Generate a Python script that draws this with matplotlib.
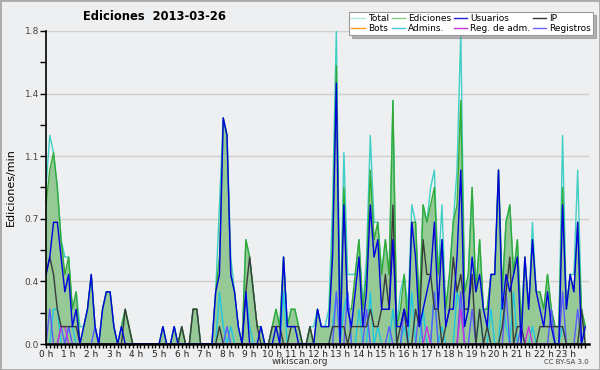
import matplotlib
matplotlib.use("Agg")
import matplotlib.pyplot as plt
from matplotlib.lines import Line2D
from matplotlib.patches import Rectangle
import numpy as np

# edits per minute, one value per 10-minute slot (6 per hour, 0 h .. 23 h)
total = [
    0.9, 1.2, 1.1, 0.9, 0.6, 0.5,  0.5, 0.2, 0.3, 0.1, 0.1, 0.2,
    0.4, 0.1, 0.0, 0.2, 0.3, 0.3,  0.1, 0.0, 0.1, 0.2, 0.1, 0.0,
    0.0, 0.0, 0.0, 0.0, 0.0, 0.0,  0.0, 0.1, 0.0, 0.0, 0.1, 0.0,
    0.1, 0.0, 0.0, 0.2, 0.2, 0.0,  0.0, 0.0, 0.0, 0.3, 0.8, 1.3,
    1.2, 0.5, 0.3, 0.1, 0.0, 0.6,  0.5, 0.3, 0.1, 0.1, 0.0, 0.0,
    0.1, 0.2, 0.1, 0.5, 0.1, 0.2,  0.2, 0.1, 0.0, 0.0, 0.1, 0.1,
    0.2, 0.1, 0.1, 0.2, 0.8, 1.8,  0.1, 1.1, 0.4, 0.4, 0.4, 0.6,
    0.2, 0.5, 1.2, 0.7, 0.7, 0.4,  0.6, 0.4, 1.4, 0.1, 0.3, 0.4,
    0.2, 0.8, 0.7, 0.2, 0.8, 0.7,  0.9, 1.0, 0.4, 0.8, 0.2, 0.4,
    0.7, 1.0, 1.8, 0.3, 0.4, 0.9,  0.3, 0.6, 0.2, 0.2, 0.4, 0.4,
    1.0, 0.3, 0.7, 0.8, 0.4, 0.6,  0.1, 0.5, 0.2, 0.7, 0.3, 0.3,
    0.2, 0.4, 0.2, 0.1, 0.1, 1.2,  0.2, 0.4, 0.4, 1.0, 0.2, 0.1,
]
ediciones = [
    0.8, 1.0, 1.1, 0.9, 0.6, 0.4,  0.5, 0.2, 0.3, 0.0, 0.1, 0.2,
    0.4, 0.1, 0.0, 0.2, 0.3, 0.3,  0.1, 0.0, 0.1, 0.2, 0.1, 0.0,
    0.0, 0.0, 0.0, 0.0, 0.0, 0.0,  0.0, 0.1, 0.0, 0.0, 0.1, 0.0,
    0.1, 0.0, 0.0, 0.2, 0.2, 0.0,  0.0, 0.0, 0.0, 0.3, 0.5, 1.3,
    1.2, 0.4, 0.3, 0.1, 0.0, 0.6,  0.5, 0.3, 0.1, 0.1, 0.0, 0.0,
    0.1, 0.2, 0.1, 0.5, 0.1, 0.2,  0.2, 0.1, 0.0, 0.0, 0.1, 0.0,
    0.2, 0.1, 0.1, 0.1, 0.6, 1.6,  0.1, 0.9, 0.2, 0.2, 0.4, 0.6,
    0.2, 0.4, 1.0, 0.6, 0.7, 0.4,  0.6, 0.4, 1.4, 0.1, 0.2, 0.4,
    0.1, 0.7, 0.7, 0.2, 0.8, 0.7,  0.8, 0.9, 0.4, 0.6, 0.2, 0.4,
    0.7, 0.8, 1.4, 0.3, 0.4, 0.9,  0.3, 0.6, 0.2, 0.2, 0.4, 0.4,
    1.0, 0.3, 0.7, 0.8, 0.4, 0.6,  0.1, 0.5, 0.2, 0.6, 0.3, 0.3,
    0.2, 0.4, 0.2, 0.1, 0.1, 0.9,  0.2, 0.4, 0.3, 0.7, 0.2, 0.1,
]
usuarios = [
    0.4, 0.5, 0.7, 0.7, 0.5, 0.3,  0.4, 0.1, 0.2, 0.0, 0.1, 0.2,
    0.4, 0.1, 0.0, 0.2, 0.3, 0.3,  0.1, 0.0, 0.1, 0.0, 0.0, 0.0,
    0.0, 0.0, 0.0, 0.0, 0.0, 0.0,  0.0, 0.1, 0.0, 0.0, 0.1, 0.0,
    0.0, 0.0, 0.0, 0.0, 0.0, 0.0,  0.0, 0.0, 0.0, 0.3, 0.4, 1.3,
    1.2, 0.4, 0.3, 0.1, 0.0, 0.3,  0.0, 0.0, 0.0, 0.1, 0.0, 0.0,
    0.0, 0.1, 0.0, 0.5, 0.1, 0.1,  0.1, 0.0, 0.0, 0.0, 0.0, 0.0,
    0.2, 0.1, 0.1, 0.1, 0.5, 1.5,  0.0, 0.8, 0.2, 0.1, 0.3, 0.5,
    0.1, 0.3, 0.8, 0.5, 0.6, 0.2,  0.2, 0.2, 0.6, 0.1, 0.1, 0.2,
    0.1, 0.7, 0.5, 0.1, 0.2, 0.3,  0.4, 0.7, 0.2, 0.6, 0.1, 0.2,
    0.2, 0.5, 1.0, 0.1, 0.2, 0.5,  0.3, 0.4, 0.2, 0.1, 0.4, 0.4,
    1.0, 0.2, 0.4, 0.3, 0.4, 0.5,  0.0, 0.5, 0.2, 0.6, 0.3, 0.2,
    0.1, 0.3, 0.1, 0.0, 0.0, 0.8,  0.2, 0.4, 0.3, 0.7, 0.0, 0.1,
]
ip = [
    0.4, 0.5, 0.4, 0.2, 0.1, 0.1,  0.1, 0.1, 0.1, 0.0, 0.0, 0.0,
    0.0, 0.0, 0.0, 0.0, 0.0, 0.0,  0.0, 0.0, 0.0, 0.2, 0.1, 0.0,
    0.0, 0.0, 0.0, 0.0, 0.0, 0.0,  0.0, 0.0, 0.0, 0.0, 0.0, 0.0,
    0.1, 0.0, 0.0, 0.2, 0.2, 0.0,  0.0, 0.0, 0.0, 0.0, 0.1, 0.0,
    0.0, 0.0, 0.0, 0.0, 0.0, 0.3,  0.5, 0.3, 0.1, 0.0, 0.0, 0.0,
    0.1, 0.1, 0.1, 0.0, 0.0, 0.1,  0.1, 0.1, 0.0, 0.0, 0.1, 0.0,
    0.0, 0.0, 0.0, 0.0, 0.1, 0.1,  0.1, 0.1, 0.0, 0.1, 0.1, 0.1,
    0.1, 0.1, 0.2, 0.1, 0.1, 0.2,  0.4, 0.2, 0.8, 0.0, 0.1, 0.2,
    0.0, 0.0, 0.2, 0.1, 0.6, 0.4,  0.4, 0.2, 0.2, 0.0, 0.1, 0.2,
    0.5, 0.3, 0.4, 0.2, 0.2, 0.4,  0.0, 0.2, 0.0, 0.1, 0.0, 0.0,
    0.0, 0.1, 0.3, 0.5, 0.0, 0.1,  0.1, 0.0, 0.0, 0.0, 0.0, 0.1,
    0.1, 0.1, 0.1, 0.1, 0.1, 0.1,  0.0, 0.0, 0.0, 0.0, 0.2, 0.0,
]
admins = [
    0.0, 0.0, 0.2, 0.2, 0.0, 0.0,  0.1, 0.1, 0.0, 0.0, 0.0, 0.0,
    0.0, 0.0, 0.0, 0.0, 0.0, 0.0,  0.0, 0.0, 0.0, 0.0, 0.0, 0.0,
    0.0, 0.0, 0.0, 0.0, 0.0, 0.0,  0.0, 0.0, 0.0, 0.0, 0.0, 0.0,
    0.0, 0.0, 0.0, 0.0, 0.0, 0.0,  0.0, 0.0, 0.0, 0.0, 0.3, 0.1,
    0.0, 0.1, 0.0, 0.0, 0.0, 0.3,  0.1, 0.0, 0.0, 0.0, 0.0, 0.0,
    0.0, 0.0, 0.0, 0.3, 0.0, 0.0,  0.0, 0.0, 0.0, 0.0, 0.0, 0.0,
    0.0, 0.0, 0.0, 0.0, 0.1, 0.3,  0.0, 0.2, 0.3, 0.0, 0.0, 0.2,
    0.0, 0.0, 0.3, 0.0, 0.1, 0.0,  0.0, 0.0, 0.2, 0.0, 0.0, 0.1,
    0.0, 0.3, 0.0, 0.0, 0.2, 0.0,  0.0, 0.3, 0.0, 0.1, 0.0, 0.0,
    0.0, 0.3, 0.2, 0.0, 0.0, 0.0,  0.0, 0.2, 0.0, 0.0, 0.2, 0.0,
    0.0, 0.3, 0.1, 0.0, 0.3, 0.0,  0.0, 0.0, 0.0, 0.1, 0.0, 0.0,
    0.0, 0.0, 0.0, 0.0, 0.0, 0.1,  0.0, 0.0, 0.0, 0.0, 0.0, 0.0,
]
registros = [
    0.0, 0.2, 0.0, 0.0, 0.1, 0.0,  0.1, 0.0, 0.0, 0.0, 0.0, 0.0,
    0.0, 0.1, 0.0, 0.0, 0.0, 0.0,  0.0, 0.0, 0.0, 0.0, 0.0, 0.0,
    0.0, 0.0, 0.0, 0.0, 0.0, 0.0,  0.0, 0.0, 0.0, 0.0, 0.0, 0.0,
    0.0, 0.0, 0.0, 0.0, 0.0, 0.0,  0.0, 0.0, 0.0, 0.0, 0.0, 0.0,
    0.1, 0.0, 0.0, 0.0, 0.0, 0.0,  0.0, 0.0, 0.0, 0.0, 0.0, 0.0,
    0.0, 0.0, 0.0, 0.0, 0.0, 0.0,  0.0, 0.0, 0.0, 0.0, 0.0, 0.0,
    0.0, 0.0, 0.0, 0.0, 0.0, 0.3,  0.0, 0.0, 0.3, 0.0, 0.0, 0.0,
    0.0, 0.2, 0.0, 0.0, 0.0, 0.0,  0.0, 0.1, 0.0, 0.0, 0.0, 0.2,
    0.0, 0.0, 0.0, 0.2, 0.0, 0.0,  0.0, 0.3, 0.0, 0.0, 0.0, 0.0,
    0.0, 0.0, 0.3, 0.0, 0.0, 0.2,  0.0, 0.0, 0.0, 0.0, 0.0, 0.0,
    0.0, 0.0, 0.3, 0.0, 0.0, 0.0,  0.1, 0.0, 0.0, 0.0, 0.0, 0.0,
    0.0, 0.0, 0.2, 0.0, 0.0, 0.3,  0.0, 0.0, 0.0, 0.2, 0.0, 0.0,
]
reg_adm = [
    0.0, 0.0, 0.0, 0.0, 0.1, 0.1,  0.0, 0.0, 0.0, 0.0, 0.0, 0.0,
    0.0, 0.0, 0.0, 0.0, 0.0, 0.0,  0.0, 0.0, 0.0, 0.0, 0.0, 0.0,
    0.0, 0.0, 0.0, 0.0, 0.0, 0.0,  0.0, 0.0, 0.0, 0.0, 0.0, 0.0,
    0.0, 0.0, 0.0, 0.0, 0.0, 0.0,  0.0, 0.0, 0.0, 0.0, 0.0, 0.0,
    0.0, 0.0, 0.0, 0.0, 0.0, 0.0,  0.0, 0.0, 0.0, 0.0, 0.0, 0.0,
    0.0, 0.0, 0.0, 0.0, 0.0, 0.0,  0.0, 0.0, 0.0, 0.0, 0.0, 0.0,
    0.0, 0.0, 0.0, 0.0, 0.0, 0.0,  0.0, 0.0, 0.0, 0.0, 0.0, 0.0,
    0.0, 0.0, 0.0, 0.0, 0.0, 0.0,  0.0, 0.0, 0.0, 0.0, 0.0, 0.0,
    0.0, 0.0, 0.0, 0.0, 0.0, 0.1,  0.0, 0.0, 0.0, 0.0, 0.0, 0.0,
    0.0, 0.0, 0.2, 0.0, 0.0, 0.0,  0.0, 0.0, 0.0, 0.0, 0.0, 0.0,
    0.0, 0.0, 0.0, 0.0, 0.0, 0.0,  0.0, 0.0, 0.1, 0.0, 0.0, 0.0,
    0.0, 0.0, 0.0, 0.0, 0.0, 0.0,  0.0, 0.0, 0.0, 0.0, 0.0, 0.0,
]
bots = [0.0] * 144

hour_labels = [f"{h} h" for h in range(24)]
y_ticks = [0.0, 0.36, 0.72, 1.08, 1.44, 1.8]

bg = '#eeeff1'
fig = plt.figure(figsize=(6, 3.7), dpi=100, facecolor=bg)
ax = fig.add_axes([46 / 600, 1 - 344 / 370, 543 / 600, 313 / 370])
ax.set_facecolor(bg)

x = np.arange(len(total)) / 6.0

for yv in y_ticks:
    ax.axhline(yv, color='#cfcfcf', lw=1.0, zorder=0)

ax.fill_between(x, ediciones, 0, color='#96c996', lw=0, zorder=1)
ax.plot(x, total, color='#3fcfc4', lw=1.0, zorder=2)
ax.plot(x, ediciones, color='#33aa33', lw=1.0, zorder=2)
ax.plot(x, bots, color='#ff9922', lw=1.0, zorder=2)
ax.plot(x, admins, color='#1ec8e0', lw=1.0, zorder=3)
ax.plot(x, registros, color='#5a5aff', lw=1.0, zorder=3)
ax.plot(x, reg_adm, color='#cc33dd', lw=1.0, zorder=3)
ax.plot(x, ip, color='#3a3a3a', lw=1.0, zorder=3)
ax.plot(x, usuarios, color='#0000e0', lw=1.0, zorder=4)

ax.set_xlim(0, 24)
ax.set_ylim(0, 1.8)
ax.set_xticks(range(24))
ax.set_xticklabels(hour_labels)
ax.set_xticks(np.arange(0, 24, 1 / 6), minor=True)
ax.set_yticks(y_ticks)
ax.set_yticklabels([f"{v:.1f}" for v in y_ticks])
ax.set_yticks(np.arange(0.18, 1.8, 0.36), minor=True)

for s in ['top', 'right']:
    ax.spines[s].set_visible(False)
ax.spines['left'].set_linewidth(1.2)
ax.spines['bottom'].set_linewidth(1.8)
ax.spines['left'].set_zorder(5)
ax.spines['bottom'].set_zorder(5)
ax.tick_params(axis='x', which='both', direction='out', length=3, width=1,
               labelsize=6.5, pad=1, labelcolor='#222222')
ax.tick_params(axis='y', which='both', direction='out', length=4, width=1,
               labelsize=6.5, pad=1, labelcolor='#444444')

ax.set_ylabel('Ediciones/min', fontsize=8, labelpad=6)

fig.text(0.257, 0.955, 'Ediciones  2013-03-26', fontsize=8.3, fontweight='bold',
         ha='center', va='center')

handles = [
    Line2D([], [], color='#a8e6df', lw=1, label='Total'),
    Line2D([], [], color='#ff9922', lw=1, label='Bots'),
    Line2D([], [], color='#88cc88', lw=1, label='Ediciones'),
    Line2D([], [], color='#44c8dd', lw=1, label='Admins.'),
    Line2D([], [], color='#2222dd', lw=1, label='Usuarios'),
    Line2D([], [], color='#cc33dd', lw=1, label='Reg. de adm.'),
    Line2D([], [], color='#333333', lw=1, label='IP'),
    Line2D([], [], color='#6666ff', lw=1, label='Registros'),
]
leg = fig.legend(handles=handles, ncol=4, loc='upper right',
                 bbox_to_anchor=(593 / 600, 1 - 12 / 370), fontsize=6.5,
                 frameon=True, shadow={'color': '#777777'}, fancybox=False,
                 handlelength=1.5, handletextpad=0.3, columnspacing=0.3,
                 labelspacing=0.1, borderpad=0.25, borderaxespad=0)
leg.get_frame().set_edgecolor('#999999')
leg.get_frame().set_linewidth(0.8)

fig.text(0.5, 0.022, 'wikiscan.org', fontsize=6.5, ha='center', va='center',
         color='#333333')
fig.text(0.982, 0.022, 'CC BY-SA 3.0', fontsize=5, ha='right', va='center',
         color='#444444')

fig.patches.append(Rectangle((0, 0), 1, 1, transform=fig.transFigure,
                             fill=False, edgecolor='#aaaaaa', lw=2))

fig.savefig('out.png', dpi=100, facecolor=bg)
